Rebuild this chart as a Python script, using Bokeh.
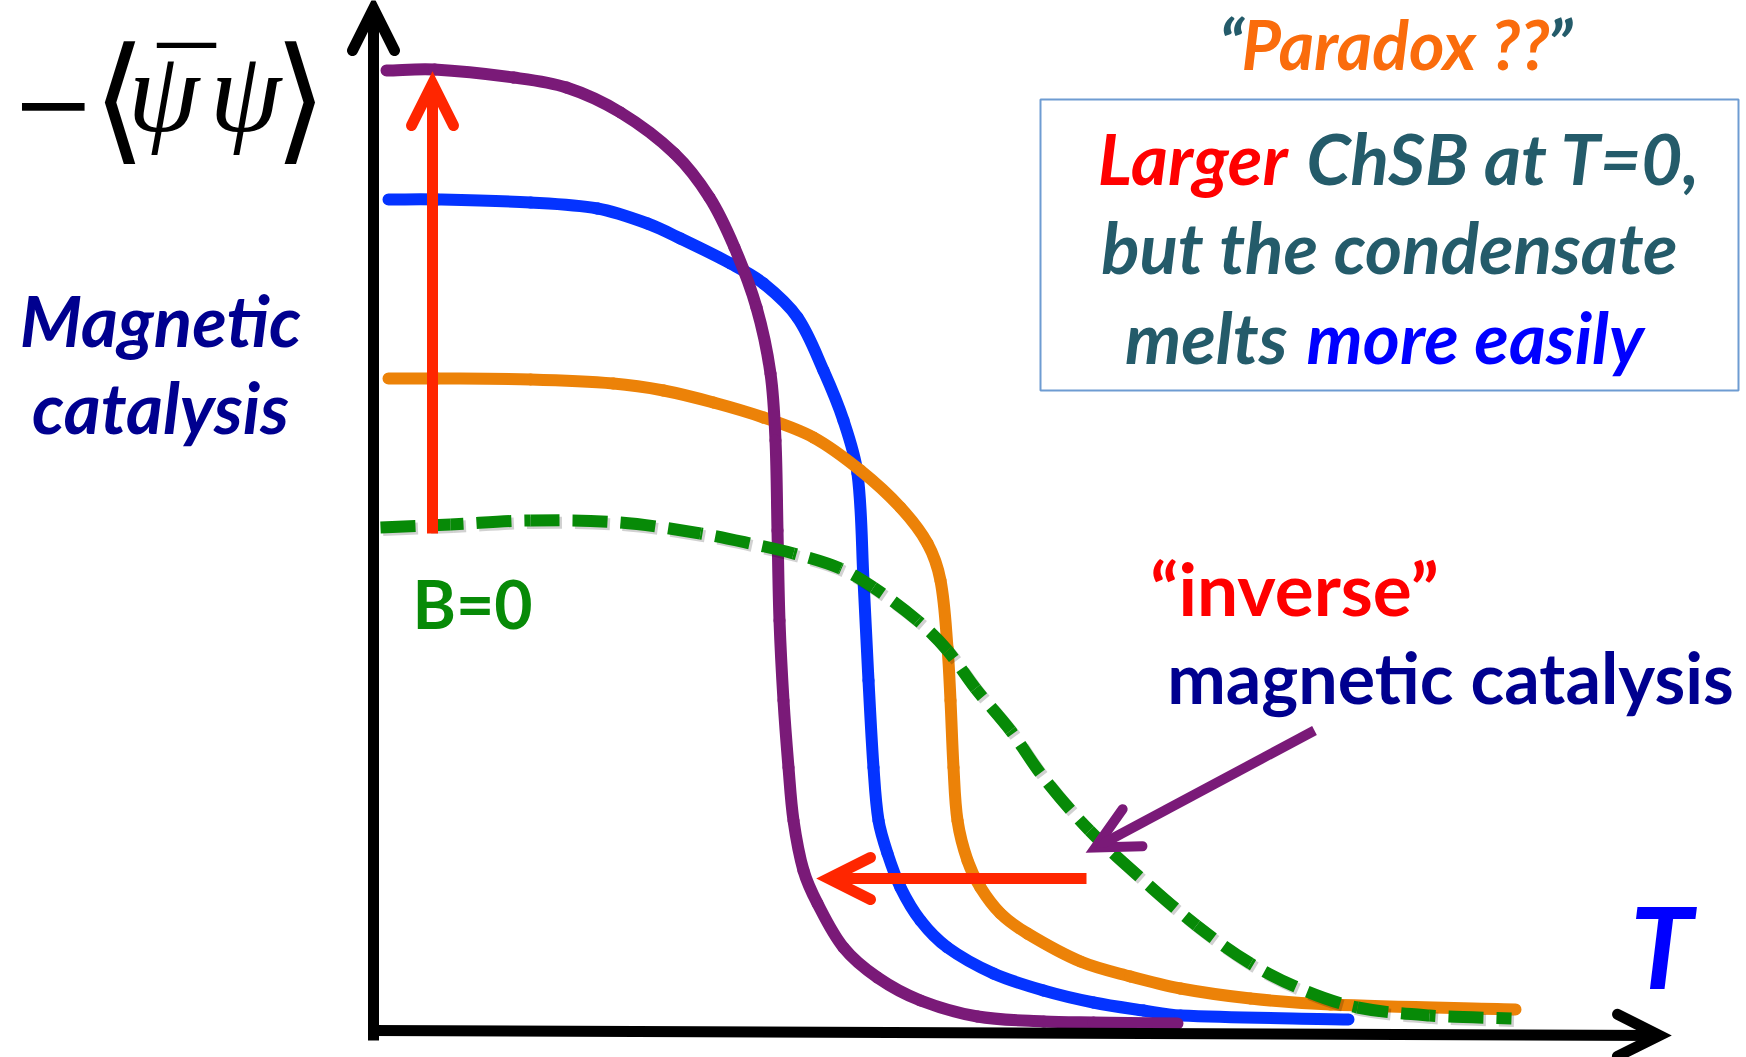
import numpy as np
from bokeh.plotting import figure
from bokeh.models import Range1d, Label, BoxAnnotation, Arrow, OpenHead
from bokeh.embed import file_html
from bokeh.resources import INLINE

# Sketch of the chiral condensate -<psibar psi> versus temperature T (arbitrary units).
# Strongest field
T_b3 = [0.13, 0.61, 1.40, 1.93, 2.47, 3.01, 3.36, 3.61, 3.83, 3.97, 4.02, 4.04, 4.06,
        4.10, 4.15, 4.20, 4.30, 4.44, 4.70, 5.04, 5.47, 6.04, 6.70, 7.20, 8.04]
pbp_b3 = [9.63, 9.64, 9.56, 9.46, 9.21, 8.80, 8.36, 7.86, 7.26, 6.60, 5.93, 5.03, 4.13,
          3.33, 2.66, 2.13, 1.63, 1.30, 0.86, 0.56, 0.33, 0.17, 0.12, 0.11, 0.10]
# Intermediate field
T_b2 = [0.15, 0.64, 1.57, 2.24, 2.74, 3.07, 3.57, 3.90, 4.24, 4.50, 4.70, 4.84, 4.90,
        4.95, 5.00, 5.05, 5.14, 5.27, 5.47, 5.74, 6.20, 6.70, 7.20, 7.70, 8.07, 9.75]
pbp_b2 = [8.34, 8.34, 8.31, 8.25, 8.10, 7.95, 7.70, 7.50, 7.16, 6.63, 6.13, 5.60, 4.53,
          3.53, 2.66, 2.13, 1.80, 1.46, 1.13, 0.86, 0.60, 0.43, 0.31, 0.23, 0.18, 0.14]
# Weak field
T_b1 = [0.15, 0.64, 1.57, 2.40, 2.90, 3.40, 3.90, 4.40, 4.87, 5.27, 5.54, 5.67, 5.74,
        5.77, 5.80, 5.84, 5.94, 6.07, 6.27, 6.54, 7.07, 7.57, 8.07, 8.77, 9.57, 11.42]
pbp_b1 = [6.55, 6.55, 6.54, 6.50, 6.43, 6.31, 6.16, 5.96, 5.63, 5.26, 4.90, 4.53, 3.86,
          3.33, 2.66, 2.13, 1.73, 1.46, 1.20, 1.00, 0.72, 0.57, 0.45, 0.35, 0.29, 0.24]
# Zero field (B=0)
T_b0 = [0.07, 0.77, 1.57, 2.47, 3.27, 3.77, 4.20, 4.67, 5.00, 5.44, 5.74, 6.02, 6.37,
        6.70, 7.16, 7.70, 8.23, 8.77, 9.31, 9.84, 10.56, 11.38]
pbp_b0 = [5.06, 5.09, 5.13, 5.11, 5.00, 4.90, 4.80, 4.65, 4.46, 4.13, 3.83, 3.45, 3.03,
          2.56, 2.03, 1.53, 1.08, 0.70, 0.43, 0.26, 0.18, 0.15]

# Axes drawn as arrows: (x_start, y_start, x_end, y_end)
axis_T = [-0.02, 0.03, 12.86, -0.02]
axis_pbp = [0.0, -0.07, 0.0, 10.25]
# Annotation arrows
catalysis_arrow = [0.59, 5.00, 0.59, 9.50]
tc_shift_arrow = [7.13, 1.55, 4.55, 1.55]
imc_pointer = [9.41, 3.03, 7.22, 1.86]

PURPLE = "#7A1A78"
BLUE = "#0433FF"
ORANGE = "#EC8208"
GREEN = "#078A07"
RED_ARROW = "#FF2600"
NAVY = "#00008F"
TEAL = "#245B6A"
PX = 100.0  # screen pixels per data unit (both axes)

p = figure(width=1746, height=1057, output_backend="svg", toolbar_location=None,
           x_range=Range1d(-3.73, 13.73), y_range=Range1d(-0.24, 10.33),
           x_axis_location=None, y_axis_location=None, min_border=0,
           background_fill_color="white", border_fill_color="white")
p.outline_line_color = None
p.grid.visible = False


def smooth_segments(xs, ys):
    """Cubic Bezier pieces through every sample; tangents follow the neighbouring
    chord and handles are a third of each piece's own chord (no overshoot)."""
    pts = np.column_stack([np.asarray(xs, float), np.asarray(ys, float)])
    n = len(pts)
    tang = np.empty_like(pts)
    tang[0] = pts[1] - pts[0]
    tang[-1] = pts[-1] - pts[-2]
    tang[1:-1] = pts[2:] - pts[:-2]
    tang /= np.hypot(tang[:, 0], tang[:, 1])[:, None]
    a, b = pts[:-1], pts[1:]
    chord = np.hypot(*(b - a).T)
    c0 = a + tang[:-1] * (chord / 3)[:, None]
    c1 = b - tang[1:] * (chord / 3)[:, None]
    poly = (np.hypot(*(c0 - a).T) + np.hypot(*(c1 - c0).T) + np.hypot(*(b - c1).T))
    length_px = 0.5 * (chord + poly) * PX
    return dict(x0=a[:, 0], y0=a[:, 1], x1=b[:, 0], y1=b[:, 1],
                cx0=c0[:, 0], cy0=c0[:, 1], cx1=c1[:, 0], cy1=c1[:, 1],
                start_px=np.concatenate([[0.0], np.cumsum(length_px)[:-1]]))


def solid_curve(xs, ys, color, width):
    s = smooth_segments(xs, ys)
    p.bezier(x0=s["x0"], y0=s["y0"], x1=s["x1"], y1=s["y1"], cx0=s["cx0"], cy0=s["cy0"],
             cx1=s["cx1"], cy1=s["cy1"], line_color=color, line_width=width,
             line_cap="round")


def dashed_curve(xs, ys, color, width, dash, period, alpha=1.0, dx=0.0, dy=0.0):
    s = smooth_segments(np.asarray(xs) + dx, np.asarray(ys) + dy)
    offsets = [int(round(v)) % period for v in s["start_px"]]
    p.bezier(x0=s["x0"], y0=s["y0"], x1=s["x1"], y1=s["y1"], cx0=s["cx0"], cy0=s["cy0"],
             cx1=s["cx1"], cy1=s["cy1"], line_color=color, line_width=width,
             line_alpha=alpha, line_dash=dash, line_dash_offset=offsets, line_cap="butt")


solid_curve(T_b2, pbp_b2, BLUE, 12)
solid_curve(T_b1, pbp_b1, ORANGE, 12)
solid_curve(T_b3, pbp_b3, PURPLE, 12)
# soft drop shadow under the dashed B=0 curve
dashed_curve(T_b0, pbp_b0, "black", 12, "35 13", 48, alpha=0.18, dx=0.025, dy=-0.025)
dashed_curve(T_b0, pbp_b0, GREEN, 12, "35 13", 48)


def add_arrow(seg, color, width, size):
    head = OpenHead(size=size, line_color=color, line_width=width, line_cap="round",
                    line_join="miter")
    p.add_layout(Arrow(end=head, x_start=seg[0], y_start=seg[1], x_end=seg[2], y_end=seg[3],
                       line_color=color, line_width=width, line_cap="butt"))


add_arrow(axis_T, "black", 11, 42)
add_arrow(axis_pbp, "black", 11, 42)
add_arrow(catalysis_arrow, RED_ARROW, 11, 42)
add_arrow(tc_shift_arrow, RED_ARROW, 11, 42)
add_arrow(imc_pointer, PURPLE, 10, 42)


def label(x, base, text, color, size, style="bold italic", font="Lato", align="center",
          lift=0.36):
    # base: text baseline in data units; lift compensates the label box descent
    p.add_layout(Label(x=x, y=base + lift * size / PX, text=text, text_color=color,
                       text_font=font, text_font_size=f"{size}px", text_font_style=style,
                       text_align=align, text_baseline="alphabetic"))


# y-axis quantity  -<psibar psi>
label(-3.20, 9.32, "−", "black", 100, style="normal", font="DejaVu Serif", lift=0)
label(-2.54, 9.35, "⟨", "black", 138, style="normal", font="DejaVu Serif", lift=0)
label(-2.10, 9.41, "ψ", "black", 115, style="italic", font="Liberation Serif", lift=0)
label(-1.87, 9.43, "¯", "black", 115, style="normal", font="Liberation Serif", lift=0)
label(-1.28, 9.41, "ψ", "black", 115, style="italic", font="Liberation Serif", lift=0)
label(-0.73, 9.35, "⟩", "black", 138, style="normal", font="DejaVu Serif", lift=0)

label(-2.13, 6.88, "Magnetic", NAVY, 71)
label(-2.13, 6.01, "catalysis", NAVY, 71)
label(0.99, 4.06, "B=0", GREEN, 66, style="bold")
label(9.21, 4.19, "“inverse”", "#FF0000", 73, style="bold")
label(10.77, 3.31, "magnetic catalysis", NAVY, 70, style="bold")
label(12.88, 0.48, "T", "#0000FF", 113)

# headline and boxed remark
label(8.70, 9.66, "“", TEAL, 68, align="right")
label(10.22, 9.66, "Paradox ??", "#FA6C0C", 68)
label(11.74, 9.66, "”", TEAL, 68, align="left")
p.add_layout(BoxAnnotation(left=6.67, right=13.65, top=9.34, bottom=6.43,
                           fill_alpha=0, line_color="#6E9CD2", line_alpha=1.0,
                           line_width=2))
label(9.14, 8.50, "Larger", "#FF0000", 71, align="right")
label(9.33, 8.50, "ChSB at T=0,", TEAL, 71, align="left")
label(10.16, 7.61, "but the condensate", TEAL, 71)
label(9.14, 6.71, "melts", TEAL, 71, align="right")
label(9.33, 6.71, "more easily", "#0000FF", 71, align="left")

open("out.html", "w").write(file_html(p, INLINE))
